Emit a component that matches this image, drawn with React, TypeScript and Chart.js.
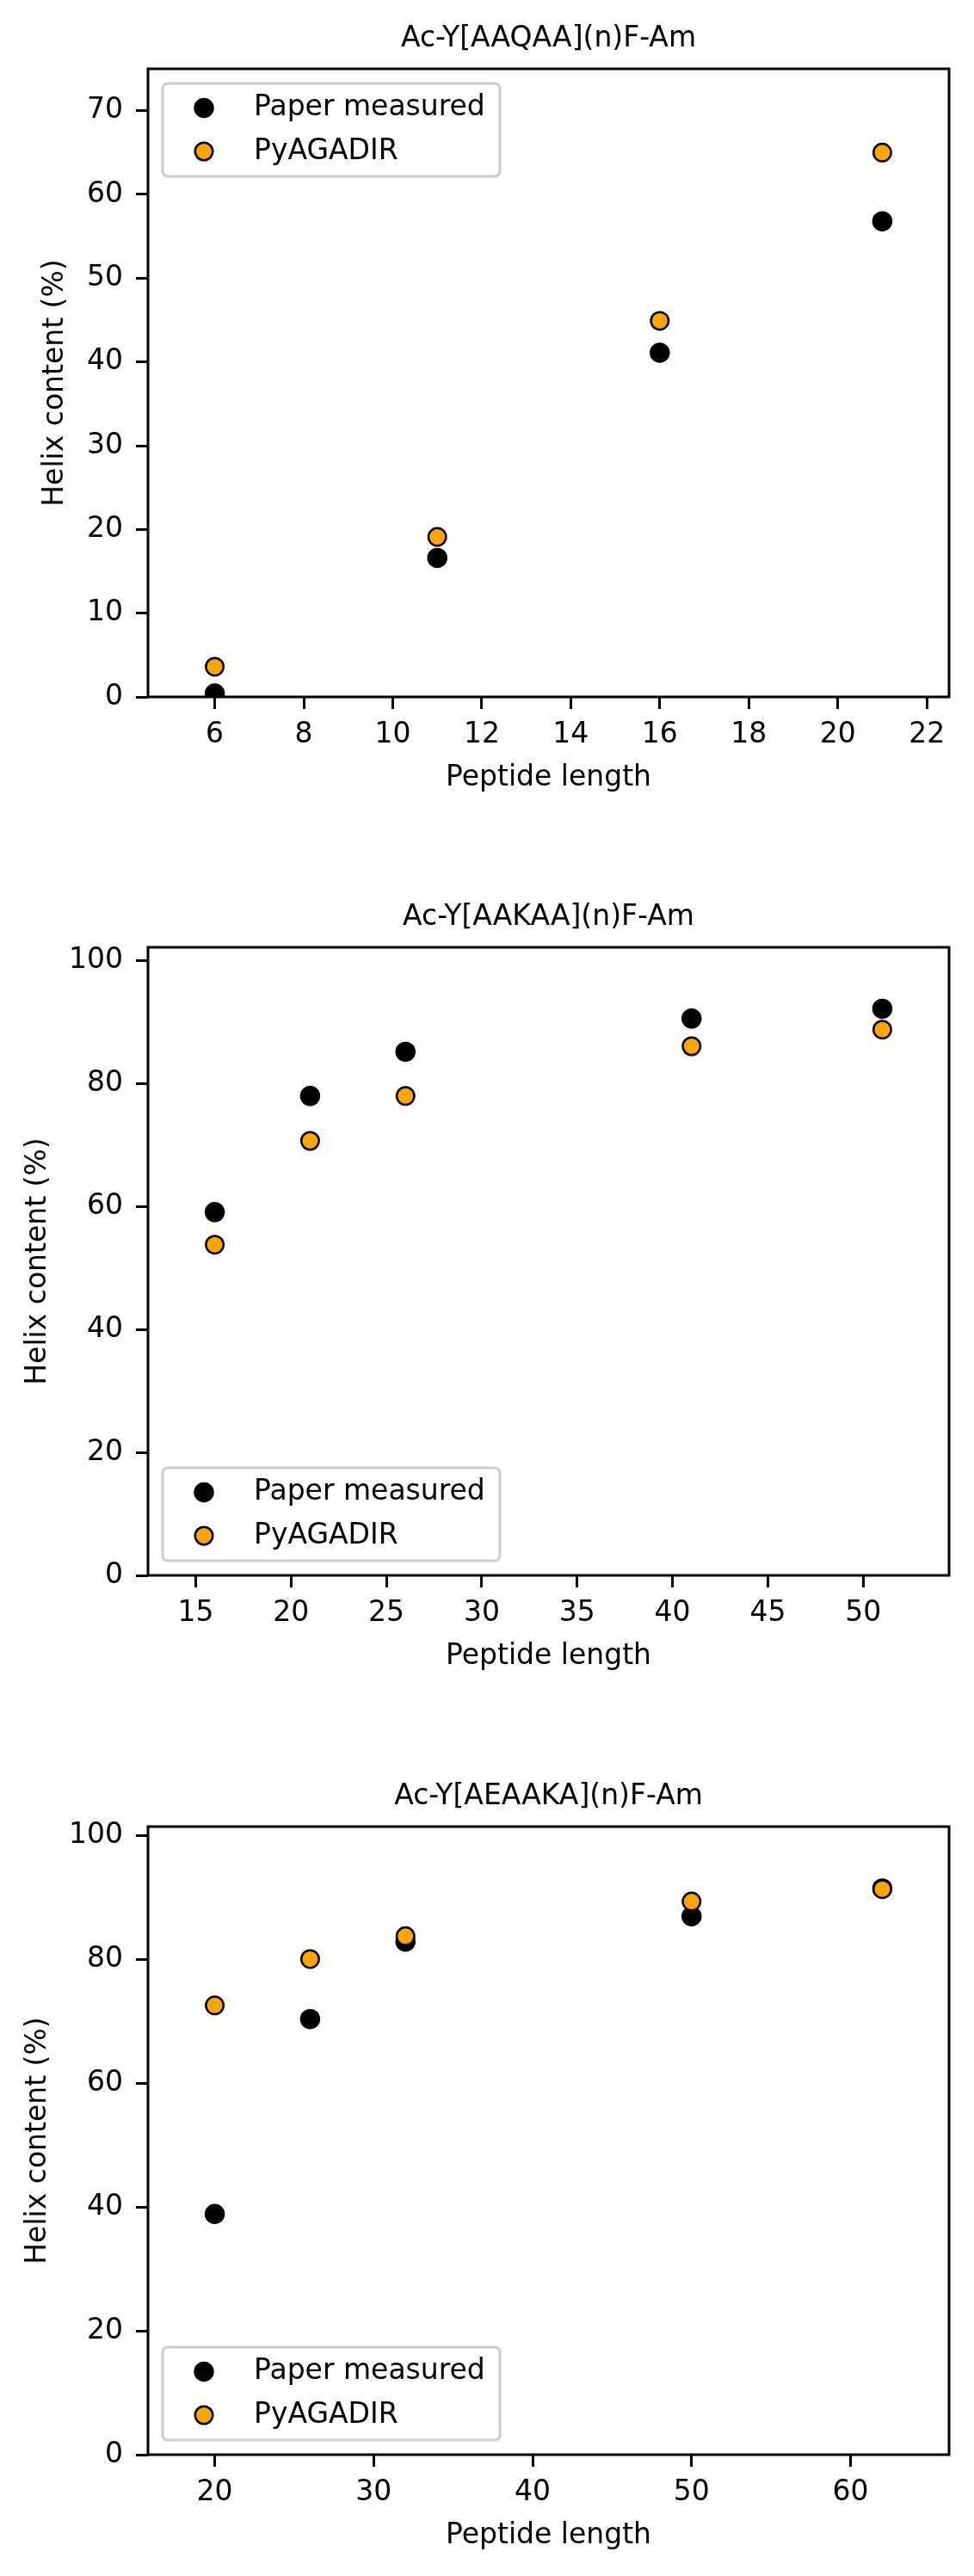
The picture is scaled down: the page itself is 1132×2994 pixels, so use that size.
import React, { useEffect, useRef } from 'react';
import { Chart, registerables } from 'chart.js';

Chart.register(...registerables);

const FONT = 'DejaVu Sans';
const FONT_SIZE = 33;

// ---- Data ----
const titleAAQAA = 'Ac-Y[AAQAA](n)F-Am';
const lengthsAAQAA = [6, 11, 16, 21];
const measuredAAQAA = [0.4, 16.6, 41.1, 56.8];
const pyagadirAAQAA = [3.6, 19.1, 44.9, 65.0];
const xTicksAAQAA = [6, 8, 10, 12, 14, 16, 18, 20, 22];
const yTicksAAQAA = [0, 10, 20, 30, 40, 50, 60, 70];

const titleAAKAA = 'Ac-Y[AAKAA](n)F-Am';
const lengthsAAKAA = [16, 21, 26, 41, 51];
const measuredAAKAA = [59.1, 78.0, 85.2, 90.6, 92.2];
const pyagadirAAKAA = [53.8, 70.7, 78.0, 86.1, 88.8];
const xTicksAAKAA = [15, 20, 25, 30, 35, 40, 45, 50];
const yTicksAAKAA = [0, 20, 40, 60, 80, 100];

const titleAEAAKA = 'Ac-Y[AEAAKA](n)F-Am';
const lengthsAEAAKA = [20, 26, 32, 50, 62];
const measuredAEAAKA = [38.9, 70.4, 82.9, 87.0, 91.5];
const pyagadirAEAAKA = [72.6, 80.1, 83.8, 89.4, 91.4];
const xTicksAEAAKA = [20, 30, 40, 50, 60];
const yTicksAEAAKA = [0, 20, 40, 60, 80, 100];

const seriesLabels = ['Paper measured', 'PyAGADIR'];
const xAxisLabel = 'Peptide length';
const yAxisLabel = 'Helix content (%)';

// ---- Plugins ----
const framePlugin = {
  id: 'frame',
  afterDatasetsDraw(chart: any) {
    const { ctx, chartArea } = chart;
    ctx.save();
    ctx.lineWidth = 3;
    ctx.strokeStyle = '#000';
    ctx.strokeRect(chartArea.left, chartArea.top, chartArea.right - chartArea.left, chartArea.bottom - chartArea.top);
    ctx.restore();
  },
};

const boxLegendPlugin = {
  id: 'boxLegend',
  afterDraw(chart: any, _args: any, opts: any) {
    const { ctx, chartArea } = chart;
    const bw = 392;
    const bh = 108;
    const inset = 17;
    const x = chartArea.left + inset;
    const y = opts.loc === 'upper left' ? chartArea.top + inset : chartArea.bottom - inset - bh;
    ctx.save();
    ctx.beginPath();
    if (ctx.roundRect) ctx.roundRect(x, y, bw, bh, 6);
    else ctx.rect(x, y, bw, bh);
    ctx.fillStyle = 'rgba(255,255,255,0.8)';
    ctx.fill();
    ctx.lineWidth = 3;
    ctx.strokeStyle = '#cccccc';
    ctx.stroke();
    chart.data.datasets.forEach((ds: any, i: number) => {
      const cy = y + 28.5 + i * 50.5;
      ctx.beginPath();
      ctx.arc(x + 48, cy, ds.pointRadius, 0, Math.PI * 2);
      ctx.fillStyle = ds.pointBackgroundColor;
      ctx.fill();
      if (ds.pointBorderWidth > 0) {
        ctx.lineWidth = ds.pointBorderWidth;
        ctx.strokeStyle = ds.pointBorderColor;
        ctx.stroke();
      }
      ctx.fillStyle = '#000';
      ctx.font = `${FONT_SIZE}px "${FONT}"`;
      ctx.textAlign = 'left';
      ctx.textBaseline = 'middle';
      ctx.fillText(ds.label, x + 106, cy);
    });
    ctx.restore();
  },
};

type PanelProps = {
  title: string;
  lengths: number[];
  measured: number[];
  predicted: number[];
  xTicks: number[];
  yTicks: number[];
  legendLoc: string;
  yTitlePad: number;
  top: number;
};

function Panel(props: PanelProps) {
  const ref = useRef<HTMLCanvasElement>(null);
  useEffect(() => {
    const { title, lengths, measured, predicted, xTicks, yTicks, legendLoc, yTitlePad } = props;
    const lmin = Math.min(...lengths);
    const lmax = Math.max(...lengths);
    const xr = lmax - lmin;
    const ymax = Math.max(...measured, ...predicted) + 10;
    const font = { family: FONT, size: FONT_SIZE, lineHeight: 1.2 };

    const chart = new Chart(ref.current as HTMLCanvasElement, {
      type: 'scatter',
      data: {
        datasets: [
          {
            label: seriesLabels[0],
            data: lengths.map((l, i) => ({ x: l, y: measured[i] })),
            pointRadius: 10.5,
            pointHoverRadius: 10.5,
            pointBackgroundColor: '#000000',
            pointBorderColor: '#000000',
            pointBorderWidth: 2.5,
            backgroundColor: '#000000',
            borderColor: '#000000',
            order: 2,
            clip: 0,
          } as any,
          {
            label: seriesLabels[1],
            data: lengths.map((l, i) => ({ x: l, y: predicted[i] })),
            pointRadius: 10.25,
            pointHoverRadius: 10.25,
            pointBackgroundColor: '#FFA500',
            pointBorderColor: '#000000',
            pointBorderWidth: 2.5,
            backgroundColor: '#FFA500',
            borderColor: '#000000',
            order: 1,
            clip: 0,
          } as any,
        ],
      },
      options: {
        animation: false,
        responsive: false,
        devicePixelRatio: 1,
        events: [],
        layout: { padding: { top: 0, left: 0, right: 29, bottom: 0 } },
        plugins: {
          legend: { display: false },
          tooltip: { enabled: false },
          title: {
            display: true,
            fullSize: false,
            text: title,
            color: '#000',
            font: { family: FONT, size: FONT_SIZE, weight: 'normal', lineHeight: 1.2 },
            padding: { top: 25.2, bottom: 15.2 },
          },
          boxLegend: { loc: legendLoc },
        } as any,
        scales: {
          x: {
            type: 'linear',
            position: 'bottom',
            min: lmin - 0.1 * xr,
            max: lmax + 0.1 * xr,
            afterBuildTicks: (scale: any) => {
              scale.ticks = xTicks.map((v) => ({ value: v }));
            },
            afterFit: (scale: any) => {
              scale.height = 190;
            },
            grid: { drawOnChartArea: false, drawTicks: true, tickLength: 14, tickWidth: 3, tickColor: '#000' },
            border: { display: false },
            ticks: { color: '#000', font, padding: 11, maxRotation: 0, autoSkip: false },
            title: { display: true, text: xAxisLabel, color: '#000', font, padding: { top: 0, bottom: 76 } },
          },
          y: {
            type: 'linear',
            position: 'left',
            min: 0,
            max: ymax,
            afterBuildTicks: (scale: any) => {
              scale.ticks = yTicks.map((v) => ({ value: v }));
            },
            afterFit: (scale: any) => {
              scale.width = 172;
            },
            grid: { drawOnChartArea: false, drawTicks: true, tickLength: 14, tickWidth: 3, tickColor: '#000' },
            border: { display: false },
            ticks: { color: '#000', font, padding: 15, autoSkip: false },
            title: { display: true, text: yAxisLabel, color: '#000', font, padding: { top: yTitlePad, bottom: 0 } },
          },
        },
      } as any,
      plugins: [framePlugin, boxLegendPlugin],
    });
    return () => chart.destroy();
  }, []);
  return (
    <canvas
      ref={ref}
      width={1132}
      height={1000}
      style={{ position: 'absolute', left: 0, top: props.top, width: 1132, height: 1000 }}
    />
  );
}

export default function App() {
  return (
    <div style={{ position: 'absolute', left: 0, top: 0, width: 1132, height: 2994, background: '#fff' }}>
      <Panel
        title={titleAAQAA}
        lengths={lengthsAAQAA}
        measured={measuredAAQAA}
        predicted={pyagadirAAQAA}
        xTicks={xTicksAAQAA}
        yTicks={yTicksAAQAA}
        legendLoc="upper left"
        yTitlePad={45}
        top={0}
      />
      <Panel
        title={titleAAKAA}
        lengths={lengthsAAKAA}
        measured={measuredAAKAA}
        predicted={pyagadirAAKAA}
        xTicks={xTicksAAKAA}
        yTicks={yTicksAAKAA}
        legendLoc="lower left"
        yTitlePad={25}
        top={1021}
      />
      <Panel
        title={titleAEAAKA}
        lengths={lengthsAEAAKA}
        measured={measuredAEAAKA}
        predicted={pyagadirAEAAKA}
        xTicks={xTicksAEAAKA}
        yTicks={yTicksAEAAKA}
        legendLoc="lower left"
        yTitlePad={25}
        top={2043}
      />
    </div>
  );
}
